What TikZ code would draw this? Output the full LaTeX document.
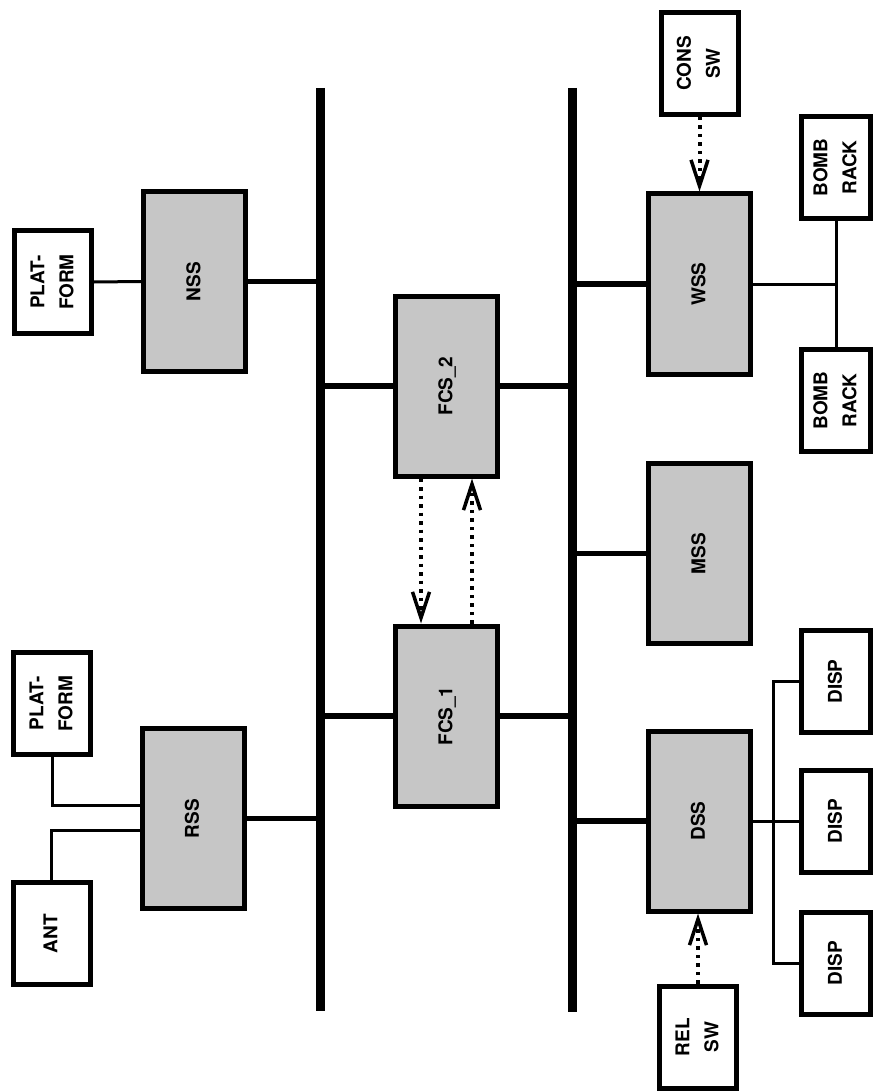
\documentclass[tikz,border=0pt]{standalone}
\usepackage{fontspec}
\setmainfont{TeX Gyre Heros}
\usepackage{graphicx}
\usetikzlibrary{arrows.meta}
\newcommand\lab[1]{\rotatebox{90}{\begin{tabular}{@{}c@{}}#1\end{tabular}}}
\definecolor{boxgray}{RGB}{198,198,198}
\begin{document}
\begin{tikzpicture}[x=1pt,y=-1pt,
  every node/.style={font=\fontsize{19}{29}\selectfont\bfseries, inner sep=0pt},
  sub/.style={draw, line width=5pt, fill=boxgray, minimum width=102pt, minimum height=180pt},
  peri/.style={draw, line width=5pt, fill=white, minimum width=77pt, minimum height=102pt},
  rperi/.style={draw, line width=5pt, fill=white, minimum width=69pt, minimum height=102pt},
  bus/.style={line width=9pt},
  link/.style={line width=5.5pt},
  thinlink/.style={line width=3pt},
  dotarrow/.style={line width=4pt, dash pattern=on 3.5pt off 5pt,
    -{Straight Barb[length=26pt,width=17pt,line width=3.5pt]}}]
\fill[white] (0,0) rectangle (873,1091);
\useasboundingbox (0,0) rectangle (873,1091);
% buses
\coordinate (b1t) at (320,88);
\coordinate (b1b) at (320,1011);
\coordinate (b2t) at (572.5,88);
\coordinate (b2b) at (572.5,1012);
\draw[bus] (b1t) -- (b1b);
\draw[bus] (b2t) -- (b2b);
% subsystems
\node[sub] (nss) at (194.5,281.5) {\lab{NSS}};
\node[sub] (rss) at (193,818.5) {\lab{RSS}};
\node[sub] (fcs2) at (446.5,386) {\lab{FCS\_2}};
\node[sub] (fcs1) at (446.5,716) {\lab{FCS\_1}};
\node[sub] (wss) at (699.5,284) {\lab{WSS}};
\node[sub] (mss) at (699.5,553.5) {\lab{MSS}};
\node[sub] (dss) at (699,821) {\lab{DSS}};
% peripherals
\node[peri] (plat1) at (53,282) {\lab{PLAT-\\FORM}};
\node[peri] (plat2) at (52,703.5) {\lab{PLAT-\\FORM}};
\node[peri] (ant) at (51.5,933.5) {\lab{ANT}};
\node[peri] (cons) at (699.5,63.5) {\lab{CONS\\SW}};
\node[peri] (rel) at (698,1037) {\lab{REL\\SW}};
\node[rperi] (bomb1) at (836,167.5) {\lab{BOMB\\RACK}};
\node[rperi] (bomb2) at (836,400.5) {\lab{BOMB\\RACK}};
\node[rperi] (disp1) at (836,681.5) {\lab{DISP}};
\node[rperi] (disp2) at (836,821) {\lab{DISP}};
\node[rperi] (disp3) at (836,963) {\lab{DISP}};
% bus links
\draw[link] (nss.east) -- (nss.east -| b1t);
\draw[link] (rss.east) -- (rss.east -| b1t);
\draw[link] (fcs2.west) -- (fcs2.west -| b1t);
\draw[link] (fcs2.east) -- (fcs2.east -| b2t);
\draw[link] (fcs1.west) -- (fcs1.west -| b1t);
\draw[link] (fcs1.east) -- (fcs1.east -| b2t);
\draw[link] (wss.west) -- (wss.west -| b2t);
\draw[link] (mss.west) -- (mss.west -| b2t);
\draw[link] (dss.west) -- (dss.west -| b2t);
% peripheral links
\coordinate (pj) at (0,805);
\coordinate (aj) at (0,830);
\coordinate (dv) at (773,0);
\draw[thinlink] (plat1.east) -- (nss.west);
\draw[thinlink] (plat2.south) |- (rss.west |- pj);
\draw[thinlink] (ant.north) |- (rss.west |- aj);
\draw[thinlink] (bomb1.south) -- (bomb2.north);
\draw[thinlink] (wss.east) -- (wss.east -| bomb1.south);
\draw[thinlink] (dss.east) -- (disp2.west);
\draw[thinlink] (disp1.west) -| (dv |- disp2.west) |- (disp3.west);
% dotted arrows
\coordinate (xa) at (421,0);
\coordinate (xb) at (472,0);
\draw[dotarrow] (fcs2.south -| xa) -- (fcs1.north -| xa);
\draw[dotarrow] (fcs1.north -| xb) -- (fcs2.south -| xb);
\draw[dotarrow] (cons.south) -- (wss.north);
\draw[dotarrow] (rel.north) -- (rel.north |- dss.south);
\end{tikzpicture}
\end{document}
